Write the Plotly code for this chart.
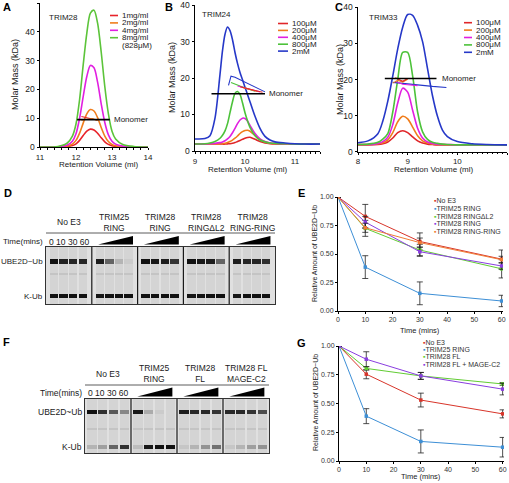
import plotly.graph_objects as go

W, H = 509, 483
def px(x): return x / W
def py(y): return 1 - y / H

FONT = "Liberation Sans, Arial, sans-serif"

# ---------------- Panel A data (TRIM28 SEC-MALS) ----------------
A_x = [11.0, 11.5, 11.75, 11.9, 12.0, 12.1, 12.2, 12.3, 12.4, 12.5, 12.6, 12.7, 12.8, 12.9, 13.0, 13.1, 13.3, 13.6, 14.0]
A_1mg = [0, 0.02, 0.15, 0.5, 1.1, 2.3, 4.0, 5.5, 6.2, 5.9, 4.8, 3.2, 1.8, 0.9, 0.45, 0.2, 0.07, 0.01, 0]
A_2mg = [0, 0.05, 0.3, 1.0, 2.3, 4.8, 8.3, 11.5, 13.0, 12.5, 10.2, 6.8, 3.8, 1.9, 0.9, 0.45, 0.15, 0.02, 0]
A_4mg = [0, 0.1, 0.6, 2.0, 4.6, 10.0, 17.5, 24.5, 28.3, 27.5, 22.5, 15.0, 8.5, 4.2, 2.0, 1.0, 0.3, 0.05, 0]
A_8mg = [0, 0.2, 1.3, 3.8, 8.0, 16.5, 28.5, 39.5, 46.5, 47.5, 43.0, 33.0, 21.0, 11.5, 5.5, 2.8, 0.9, 0.2, 0]
A_labels = ["1mg/ml", "2mg/ml", "4mg/ml", "8mg/ml"]
A_mm_x = [12.15, 12.3, 12.45, 12.6]
A_mm_1 = [10.6, 10.1, 9.7, 9.3]
A_mm_2 = [9.3, 9.7, 9.9, 9.2]
A_mono_x = [12.03, 12.94]
A_mono_y = [9.5, 9.5]

# ---------------- Panel B data (TRIM24) ----------------
B_x = [9.0, 9.2, 9.3, 9.4, 9.5, 9.55, 9.6, 9.65, 9.7, 9.75, 9.8, 9.85, 9.9, 9.95, 10.0, 10.05, 10.1, 10.2, 10.3, 10.4, 10.5, 10.6, 10.8, 11.0, 11.2, 11.5]
B_100 = [1.9, 1.9, 1.9, 1.9, 1.9, 1.9, 1.9, 1.95, 2.0, 2.1, 2.3, 2.6, 2.9, 3.2, 3.5, 3.7, 3.75, 3.2, 2.6, 2.2, 2.0, 1.9, 1.9, 1.9, 1.9, 1.9]
B_200 = [1.9, 1.9, 1.9, 1.9, 2.0, 2.0, 2.1, 2.3, 2.6, 3.0, 3.5, 4.1, 4.8, 5.3, 5.6, 5.7, 5.4, 4.3, 3.2, 2.5, 2.2, 2.0, 1.9, 1.9, 1.9, 1.9]
B_400 = [1.9, 1.9, 2.0, 2.1, 2.3, 2.5, 2.8, 3.3, 4.0, 5.0, 6.2, 7.5, 8.5, 9.0, 8.9, 8.2, 7.0, 4.8, 3.3, 2.6, 2.2, 2.1, 2.0, 1.9, 1.9, 1.9]
B_800 = [1.9, 2.0, 2.2, 2.6, 3.5, 4.3, 5.5, 7.5, 10.5, 13.5, 15.8, 16.3, 15.5, 13.2, 10.5, 8.3, 6.5, 4.2, 3.0, 2.5, 2.2, 2.1, 2.0, 1.9, 1.9, 1.9]
B_2mM = [3.3, 3.4, 4.2, 9.0, 21.0, 27.5, 32.0, 34.0, 33.0, 30.5, 27.0, 24.0, 21.5, 19.5, 17.5, 15.5, 13.5, 9.5, 6.2, 4.0, 3.0, 2.5, 2.2, 2.0, 1.9, 1.9]
B_labels = ["100μM", "200μM", "400μM", "800μM", "2mM"]
B_mm_2mM_x = [9.67, 9.72, 9.8, 9.9, 10.0, 10.1, 10.2, 10.3, 10.4]
B_mm_2mM_y = [18.0, 20.5, 20.2, 19.5, 18.9, 18.2, 17.5, 16.8, 16.2]
B_mm_800_x = [9.72, 9.8, 9.9, 10.0, 10.1, 10.2]
B_mm_800_y = [18.8, 18.3, 17.8, 17.3, 16.8, 16.4]
B_mm_400_x = [9.85, 10.0, 10.15, 10.3]
B_mm_400_y = [17.8, 17.2, 16.7, 16.2]
B_mm_200_x = [9.95, 10.1, 10.25]
B_mm_200_y = [17.4, 16.8, 16.3]
B_mm_100_x = [9.9, 10.05, 10.2, 10.35]
B_mm_100_y = [17.6, 17.0, 16.6, 16.1]
B_mono_x = [9.33, 10.4]
B_mono_y = [15.7, 15.7]

# ---------------- Panel C data (TRIM33) ----------------
C_x = [8.0, 8.2, 8.4, 8.5, 8.6, 8.7, 8.8, 8.9, 9.0, 9.1, 9.2, 9.3, 9.4, 9.5, 9.6, 9.7, 9.8, 10.0, 10.3, 10.6, 11.0]
C_100 = [1.9, 1.9, 2.0, 2.2, 2.7, 3.8, 5.3, 5.8, 5.3, 4.1, 3.0, 2.4, 2.1, 2.0, 1.9, 1.9, 1.9, 1.9, 1.9, 1.9, 1.9]
C_200 = [2.0, 2.0, 2.2, 2.5, 3.3, 5.3, 8.3, 9.8, 9.1, 6.8, 4.4, 3.0, 2.4, 2.1, 2.0, 2.0, 1.9, 1.9, 1.9, 1.9, 1.9]
C_400 = [2.0, 2.0, 2.3, 2.8, 4.0, 7.5, 13.5, 17.6, 16.5, 11.5, 6.5, 3.8, 2.7, 2.3, 2.1, 2.0, 2.0, 1.9, 1.9, 1.9, 1.9]
C_800 = [2.0, 2.1, 2.6, 3.5, 5.0, 11.0, 20.0, 27.5, 27.5, 21.0, 11.0, 5.5, 3.4, 2.6, 2.3, 2.1, 2.0, 1.9, 1.9, 1.9, 1.9]
C_2mM = [2.5, 3.0, 5.0, 8.5, 14.0, 21.0, 28.5, 34.5, 38.0, 37.8, 35.0, 30.5, 23.0, 15.5, 9.8, 6.0, 4.2, 2.8, 2.2, 2.0, 1.9]
C_labels = ["100μM", "200μM", "400μM", "800μM", "2mM"]
C_mm_2mM_x = [8.7, 8.9, 9.1, 9.3, 9.5, 9.78]
C_mm_2mM_y = [19.2, 18.9, 18.6, 18.3, 18.1, 17.8]
C_mm_400_x = [8.75, 8.9, 9.05, 9.2]
C_mm_400_y = [19.5, 18.7, 18.5, 18.3]
C_mm_200_x = [8.7, 8.8, 8.9, 9.0]
C_mm_200_y = [19.0, 19.8, 19.3, 20.1]
C_mm_100_x = [8.75, 8.9, 9.0]
C_mm_100_y = [20.5, 19.5, 20.3]
C_mono_x = [8.54, 9.58]
C_mono_y = [20.3, 20.3]

# ---------------- Panel E data ----------------
E_time = [0, 10, 30, 60]
E_names = ["No E3", "TRIM25 RING", "TRIM28 RINGΔL2", "TRIM28 RING", "TRIM28 RING-RING"]
E_noE3 = [1.0, 0.83, 0.61, 0.455]
E_noE3_err = [0, 0.105, 0.075, 0.08]
E_T25 = [1.0, 0.385, 0.155, 0.088]
E_T25_err = [0, 0.1, 0.1, 0.05]
E_dL2 = [1.0, 0.725, 0.535, 0.37]
E_dL2_err = [0, 0.07, 0.05, 0.08]
E_R28 = [1.0, 0.78, 0.52, 0.395]
E_R28_err = [0, 0.05, 0.04, 0.03]
E_RR = [1.0, 0.73, 0.6, 0.45]
E_RR_err = [0, 0.04, 0.04, 0.03]

# ---------------- Panel G data ----------------
G_time = [0, 10, 30, 60]
G_names = ["No E3", "TRIM25 RING", "TRIM28 FL", "TRIM28 FL + MAGE-C2"]
G_noE3 = [1.0, 0.755, 0.53, 0.41]
G_noE3_err = [0, 0.04, 0.06, 0.035]
G_T25 = [1.0, 0.39, 0.17, 0.12]
G_T25_err = [0, 0.065, 0.1, 0.085]
G_FL = [1.0, 0.805, 0.74, 0.67]
G_FL_err = [0, 0.015, 0.03, 0.012]
G_MAGE = [1.0, 0.885, 0.74, 0.625]
G_MAGE_err = [0, 0.065, 0.03, 0.05]

# ---------------- Gel data (band intensity 0..1) ----------------
D_groups = ["No E3", "TRIM25<br>RING", "TRIM28<br>RING", "TRIM28<br>RINGΔL2", "TRIM28<br>RING-RING"]
D_ube = [0.95, 0.88, 0.86, 0.86,
         0.9, 0.6, 0.25, 0.12,
         0.95, 0.92, 0.9, 0.8,
         0.95, 0.92, 0.9, 0.6,
         0.9, 0.86, 0.86, 0.82]
D_kub = [0.95, 0.95, 0.95, 0.95,
         0.93, 0.95, 0.95, 0.95,
         0.95, 0.95, 0.95, 0.95,
         0.93, 0.94, 0.95, 0.95,
         0.93, 0.95, 0.95, 0.95]
F_groups = ["No E3", "TRIM25<br>RING", "TRIM28<br>FL", "TRIM28 FL<br>MAGE-C2"]
F_ube = [0.95, 0.82, 0.65, 0.45,
         0.92, 0.3, 0.12, 0.07,
         0.9, 0.85, 0.85, 0.8,
         0.85, 0.85, 0.8, 0.7]
F_kub = [0.25, 0.35, 0.6, 0.82,
         0.2, 0.92, 0.95, 0.95,
         0.15, 0.25, 0.4, 0.55,
         0.15, 0.25, 0.35, 0.4]
time_points = "0 10 30 60"

# ---------------- Styles ----------------
SEC_COLORS_A = ["#e8232a", "#f07d1c", "#e11fe0", "#5cc43a"]
SEC_COLORS = ["#e0262a", "#f07d1c", "#e11fe0", "#4cc23a", "#2638c8"]
E_COLORS = ["#d8352a", "#3d8fd6", "#62cc33", "#8a3ee0", "#f07b35"]
G_COLORS = ["#d8352a", "#3d8fd6", "#62cc33", "#8a3ee0"]

fig = go.Figure()

def sec_line(x, y, color, ax, w=1.6):
    fig.add_trace(go.Scatter(x=x, y=y, mode="lines", line=dict(color=color, width=w, shape="spline", smoothing=0.8),
                             xaxis="x" + ax, yaxis="y" + ax, hoverinfo="skip", showlegend=False))

def mm_line(x, y, color, ax):
    fig.add_trace(go.Scatter(x=x, y=y, mode="lines", line=dict(color=color, width=1.1),
                             xaxis="x" + ax, yaxis="y" + ax, hoverinfo="skip", showlegend=False))

# Panel A
for ys, c in zip([A_1mg, A_2mg, A_4mg, A_8mg], SEC_COLORS_A):
    sec_line(A_x, ys, c, "")
mm_line(A_mm_x, A_mm_1, SEC_COLORS_A[0], "")
mm_line(A_mm_x, A_mm_2, SEC_COLORS_A[1], "")
fig.add_trace(go.Scatter(x=A_mono_x, y=A_mono_y, mode="lines", line=dict(color="black", width=1.6),
                         hoverinfo="skip", showlegend=False))

# Panel B
for ys, c in zip([B_100, B_200, B_400, B_800, B_2mM], SEC_COLORS):
    sec_line(B_x, ys, c, "2")
mm_line(B_mm_2mM_x, B_mm_2mM_y, SEC_COLORS[4], "2")
mm_line(B_mm_800_x, B_mm_800_y, SEC_COLORS[3], "2")
mm_line(B_mm_400_x, B_mm_400_y, SEC_COLORS[2], "2")
mm_line(B_mm_200_x, B_mm_200_y, SEC_COLORS[1], "2")
mm_line(B_mm_100_x, B_mm_100_y, SEC_COLORS[0], "2")
fig.add_trace(go.Scatter(x=B_mono_x, y=B_mono_y, mode="lines", line=dict(color="black", width=1.6),
                         xaxis="x2", yaxis="y2", hoverinfo="skip", showlegend=False))

# Panel C
for ys, c in zip([C_100, C_200, C_400, C_800, C_2mM], SEC_COLORS):
    sec_line(C_x, ys, c, "3")
mm_line(C_mm_2mM_x, C_mm_2mM_y, SEC_COLORS[4], "3")
mm_line(C_mm_400_x, C_mm_400_y, SEC_COLORS[2], "3")
mm_line(C_mm_200_x, C_mm_200_y, SEC_COLORS[1], "3")
mm_line(C_mm_100_x, C_mm_100_y, SEC_COLORS[0], "3")
fig.add_trace(go.Scatter(x=C_mono_x, y=C_mono_y, mode="lines", line=dict(color="black", width=1.6),
                         xaxis="x3", yaxis="y3", hoverinfo="skip", showlegend=False))

# Panels E, G
def kin(t, y, err, color, ax):
    fig.add_trace(go.Scatter(x=t, y=y, mode="lines+markers",
                             line=dict(color=color, width=1),
                             marker=dict(symbol="square", size=3.5, color=color),
                             error_y=dict(type="data", array=err, color="#222", thickness=0.8, width=3),
                             xaxis="x" + ax, yaxis="y" + ax, hoverinfo="skip", showlegend=False))

E_series = [E_noE3, E_T25, E_dL2, E_R28, E_RR]
E_errs = [E_noE3_err, E_T25_err, E_dL2_err, E_R28_err, E_RR_err]
for ys, er, c in zip(E_series, E_errs, E_COLORS):
    kin(E_time, ys, er, c, "4")
for ys, er, c in zip([G_noE3, G_T25, G_FL, G_MAGE], [G_noE3_err, G_T25_err, G_FL_err, G_MAGE_err], G_COLORS):
    kin(G_time, ys, er, c, "5")

# ---------------- Gels ----------------
GAP_BG, LANE_BG, FAINT = 0.0, 0.07, 0.16

def gel(ube, kub, n_boxes, off, sp, w, ube_y, kub_y, faint_y, t, ax):
    xe = [0.0]
    types = []
    for b in range(n_boxes):
        for k in range(4):
            c = b * 4 + off + k * sp
            types.append(None); xe.append(c - w / 2)
            types.append(b * 4 + k); xe.append(c + w / 2)
        types.append(None); xe.append((b + 1) * 4.0)
    ye = [0, ube_y - t / 2, ube_y + t / 2, faint_y - 0.02, faint_y + 0.02, kub_y - t / 2, kub_y + t / 2, 1]
    z = []
    for r in range(7):
        row = []
        for ty in types:
            if ty is None:
                row.append(GAP_BG)
            elif r == 1:
                row.append(ube[ty])
            elif r == 5:
                row.append(kub[ty])
            elif r == 3:
                row.append(FAINT)
            else:
                row.append(LANE_BG)
        z.append(row)
    fig.add_trace(go.Heatmap(z=z, x=xe, y=ye, zmin=0, zmax=1, showscale=False, hoverinfo="skip",
                             colorscale=[[0, "#e0e0e0"], [0.3, "#ababab"], [1, "#050505"]],
                             xaxis="x" + ax, yaxis="y" + ax))

gel(D_ube, D_kub, 5, 0.7, 0.84, 0.74, 0.26, 0.86, 0.47, 0.085, "6")
gel(F_ube, F_kub, 4, 0.6, 0.95, 0.8, 0.24, 0.89, 0.55, 0.08, "7")

# ---------------- Layout / axes ----------------
def axis_common(**kw):
    d = dict(showline=True, linecolor="black", linewidth=1, ticks="outside", ticklen=2.5, tickwidth=1,
             tickcolor="black", showgrid=False, zeroline=False, fixedrange=True,
             tickfont=dict(size=8.5, color="#1a1a1a", family=FONT))
    d.update(kw)
    return d

minor = dict(ticks="outside", ticklen=1.5, tickcolor="black", dtick=0.1)
small_tick = dict(size=7, color="#333", family=FONT)
sec_xtick = dict(size=8, color="#1a1a1a", family=FONT)
gel_axis = dict(showticklabels=False, ticks="", showline=True, mirror=True, linecolor="#333", linewidth=1,
                showgrid=False, zeroline=False, fixedrange=True)

layout = dict(
    width=W, height=H, margin=dict(l=0, r=0, t=0, b=0), autosize=False,
    template="none", paper_bgcolor="white", plot_bgcolor="white",
    font=dict(family=FONT, size=8, color="#1a1a1a"), showlegend=False,
    xaxis=axis_common(domain=[px(40), px(148)], range=[11, 14], tickvals=[11, 12, 13, 14], anchor="y",
                      ticklen=2, tickfont=sec_xtick,
                      minor=dict(ticks="outside", ticklen=1.5, tickcolor="black", dtick=0.2)),
    yaxis=axis_common(domain=[py(147), py(3)], range=[0, 50.01], tickvals=[0, 10, 20, 30, 40, 50], anchor="x"),
    xaxis2=axis_common(domain=[px(195), px(320)], range=[9, 11.5], tickvals=[9, 10, 11], anchor="y2", minor=minor,
                       ticklen=2, tickfont=sec_xtick),
    yaxis2=axis_common(domain=[py(151), py(5)], range=[0, 40.01], tickvals=[0, 10, 20, 30, 40], anchor="x2"),
    xaxis3=axis_common(domain=[px(358), px(507)], range=[8, 11], tickvals=[8, 9, 10, 11], anchor="y3", minor=minor,
                       ticklen=2, tickfont=sec_xtick),
    yaxis3=axis_common(domain=[py(151.7), py(7.3)], range=[0, 40.01], tickvals=[0, 10, 20, 30, 40], anchor="x3"),
    xaxis4=axis_common(domain=[px(338), px(503)], range=[0, 60.5], tickvals=[0, 10, 20, 30, 40, 50, 60], anchor="y4",
                       ticklen=2, tickfont=small_tick),
    yaxis4=axis_common(domain=[py(311), py(197)], range=[0, 1.0], tickvals=[0, 0.25, 0.5, 0.75, 1.0], tickformat=".2f",
                       anchor="x4", ticklen=2, tickfont=small_tick),
    xaxis5=axis_common(domain=[px(339), px(504)], range=[0, 60.5], tickvals=[0, 10, 20, 30, 40, 50, 60], anchor="y5",
                       ticklen=2, tickfont=small_tick),
    yaxis5=axis_common(domain=[py(461), py(346)], range=[0, 1.0], tickvals=[0, 0.25, 0.5, 0.75, 1.0], tickformat=".2f",
                       anchor="x5", ticklen=2, tickfont=small_tick),
    xaxis6=dict(domain=[px(46), px(275)], range=[0, 20], anchor="y6", **gel_axis),
    yaxis6=dict(domain=[py(304), py(247)], range=[1, 0], anchor="x6", **gel_axis),
    xaxis7=dict(domain=[px(85), px(269)], range=[0, 16], anchor="y7", **gel_axis),
    yaxis7=dict(domain=[py(453), py(399)], range=[1, 0], anchor="x7", **gel_axis),
)
fig.update_layout(**layout)

ann = []
shapes = []

def text(x, y, s, size=8, xa="center", ya="middle", angle=0, bold=False, color="#1a1a1a", xref="paper", yref="paper"):
    if bold:
        s = "<b>" + s + "</b>"
    ann.append(dict(x=x, y=y, xref=xref, yref=yref, text=s, showarrow=False, xanchor=xa, yanchor=ya,
                    textangle=angle, font=dict(size=size, color=color, family=FONT)))

# Panel letters
for L, x, y in [("A", 7, 7), ("B", 169, 7), ("C", 339, 7), ("D", 8, 193), ("E", 301, 193), ("F", 6, 342), ("G", 301, 343)]:
    text(px(x), py(y), L, size=11, bold=True, color="black")

# SEC axis titles
for cx, cy in [(98, 164.5), (247, 169.5), (433, 169.5)]:
    text(px(cx), py(cy), "Retention Volume (ml)", size=8)
for cx, cy in [(15, 75), (172, 78), (340, 80)]:
    text(px(cx), py(cy), "Molar Mass (kDa)", size=9, angle=-90)

# Panel titles
text(px(47), py(17), "TRIM28", size=8, xa="left")
text(px(200), py(15), "TRIM24", size=8, xa="left")
text(px(367), py(18), "TRIM33", size=8, xa="left")

# Monomer labels
text(13.0, A_mono_y[0], "Monomer", size=8, xa="left", xref="x", yref="y")
text(10.44, B_mono_y[0], "Monomer", size=8, xa="left", xref="x2", yref="y2")
text(9.66, C_mono_y[0], "Monomer", size=8, xa="left", xref="x3", yref="y3")

# SEC legends
def sec_legend(labels, colors, x0, x1, xt, y0, dy, extra=None):
    for i, (lab, c) in enumerate(zip(labels, colors)):
        y = y0 + i * dy
        shapes.append(dict(type="line", xref="paper", yref="paper", x0=px(x0), x1=px(x1), y0=py(y), y1=py(y),
                           line=dict(color=c, width=1.6)))
        text(px(xt), py(y), lab, size=8, xa="left")
    if extra:
        text(px(xt), py(y0 + len(labels) * dy), extra, size=8, xa="left")

sec_legend(A_labels, SEC_COLORS_A, 110, 118, 119.5, 15.5, 7.4, extra="(828μM)")
sec_legend(B_labels, SEC_COLORS, 278, 288, 289.5, 23.5, 6.9)
sec_legend(C_labels, SEC_COLORS, 464, 472, 473.5, 22.7, 7.4)

# E / G titles
text(px(315), py(254), "Relative Amount of UBE2D~Ub", size=7, angle=-90)
text(px(315), py(403), "Relative Amount of UBE2D~Ub", size=7, angle=-90)
text(px(420), py(330), "Time (mins)", size=7.5)
text(px(421), py(476), "Time (mins)", size=7.5)

def kin_legend(names, colors, x, y0, dy):
    for i, (n, c) in enumerate(zip(names, colors)):
        text(px(x), py(y0 + i * dy), '<span style="color:%s">▪</span>%s' % (c, n), size=7, xa="left", color="#333")

kin_legend(E_names, E_COLORS, 431.5, 200.7, 7.7)
kin_legend(G_names, G_COLORS, 420.5, 342.7, 7.1)

# Gel annotations
def gel_deco(groups, ax, label_right, head_y, line_y, time_y, ube_y, kub_y, wedge_top, wedge_bot, gx0, gx1, lsize):
    xr = "x" + ax
    for b, g in enumerate(groups):
        text(b * 4 + 2, py(head_y), g, size=8.5, xref=xr)
        if b > 0:
            shapes.append(dict(type="path", xref=xr, yref="paper",
                               path="M %f,%f L %f,%f L %f,%f Z" % (b * 4 + 0.55, py(wedge_bot), b * 4 + 3.6, py(wedge_bot),
                                                                   b * 4 + 3.6, py(wedge_top)),
                               fillcolor="black", line=dict(width=0)))
            shapes.append(dict(type="line", xref=xr, yref="y" + ax, x0=b * 4, x1=b * 4, y0=0, y1=1,
                               line=dict(color="#1a1a1a", width=1.2)))
    text(2, py(time_y), time_points, size=8.5, xref=xr)
    shapes.append(dict(type="line", xref="paper", yref="paper", x0=px(gx0), x1=px(gx1), y0=py(line_y), y1=py(line_y),
                       line=dict(color="#333", width=0.8)))
    text(px(label_right), py(time_y), "Time(mins)", size=lsize, xa="right")
    text(px(label_right), py(ube_y), "UBE2D~Ub", size=lsize, xa="right")
    text(px(label_right), py(kub_y), "K-Ub", size=lsize, xa="right")

gel_deco(D_groups, "6", 44.5, 222, 233, 241.5, 261, 296.5, 236, 244.5, 46, 275, 8)
gel_deco(F_groups, "7", 83.5, 373.5, 385, 393, 412, 447, 387.5, 396.5, 85, 269, 8.5)

fig.update_layout(annotations=ann, shapes=shapes)
fig.write_html("out.html", config={"displayModeBar": False, "staticPlot": True},
               post_script="document.body.style.margin='0px';document.body.style.padding='0px';"
                           "document.body.style.overflow='hidden';")
